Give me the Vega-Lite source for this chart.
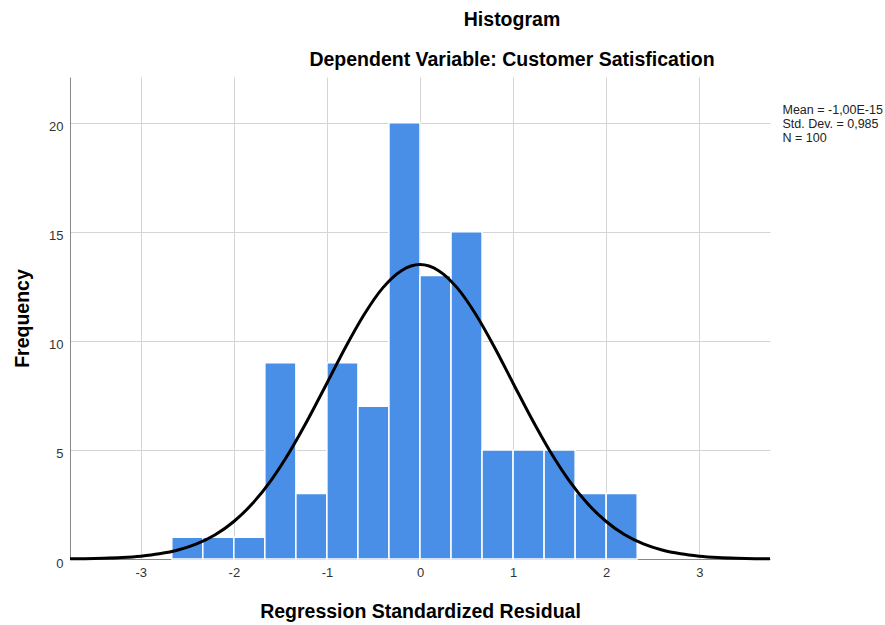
{
  "$schema": "https://vega.github.io/schema/vega-lite/v6.json",
  "width": 700,
  "height": 482,
  "autosize": {"type": "none"},
  "padding": {"left": 70, "top": 77, "right": 115, "bottom": 66},
  "background": "white",
  "title": {
    "text": "Histogram",
    "subtitle": "Dependent Variable: Customer Satisfication",
    "font": "Liberation Sans",
    "subtitleFont": "Liberation Sans",
    "fontSize": 19.5,
    "subtitleFontSize": 19.5,
    "fontWeight": "bold",
    "subtitleFontWeight": "bold",
    "color": "black",
    "subtitleColor": "black",
    "anchor": "middle",
    "dx": 92,
    "offset": 7,
    "subtitlePadding": 20
  },
  "datasets": {
    "bins": [
      {"start": -2.6667, "end": -2.3333, "count": 1},
      {"start": -2.3333, "end": -2.0, "count": 1},
      {"start": -2.0, "end": -1.6667, "count": 1},
      {"start": -1.6667, "end": -1.3333, "count": 9},
      {"start": -1.3333, "end": -1.0, "count": 3},
      {"start": -1.0, "end": -0.6667, "count": 9},
      {"start": -0.6667, "end": -0.3333, "count": 7},
      {"start": -0.3333, "end": 0.0, "count": 20},
      {"start": 0.0, "end": 0.3333, "count": 13},
      {"start": 0.3333, "end": 0.6667, "count": 15},
      {"start": 0.6667, "end": 1.0, "count": 5},
      {"start": 1.0, "end": 1.3333, "count": 5},
      {"start": 1.3333, "end": 1.6667, "count": 5},
      {"start": 1.6667, "end": 2.0, "count": 3},
      {"start": 2.0, "end": 2.3333, "count": 3}
    ],
    "curve": [
      {"x": -3.76, "y": 0.009},
      {"x": -3.6, "y": 0.017},
      {"x": -3.4, "y": 0.035},
      {"x": -3.2, "y": 0.069},
      {"x": -3.0, "y": 0.131},
      {"x": -2.8, "y": 0.237},
      {"x": -2.6, "y": 0.41},
      {"x": -2.4, "y": 0.69},
      {"x": -2.2, "y": 1.11},
      {"x": -2.0, "y": 1.72},
      {"x": -1.8, "y": 2.54},
      {"x": -1.6, "y": 3.61},
      {"x": -1.4, "y": 4.92},
      {"x": -1.2, "y": 6.43},
      {"x": -1.0, "y": 8.06},
      {"x": -0.8, "y": 9.71},
      {"x": -0.6, "y": 11.21},
      {"x": -0.4, "y": 12.43},
      {"x": -0.2, "y": 13.22},
      {"x": 0.0, "y": 13.5},
      {"x": 0.2, "y": 13.22},
      {"x": 0.4, "y": 12.43},
      {"x": 0.6, "y": 11.21},
      {"x": 0.8, "y": 9.71},
      {"x": 1.0, "y": 8.06},
      {"x": 1.2, "y": 6.43},
      {"x": 1.4, "y": 4.92},
      {"x": 1.6, "y": 3.61},
      {"x": 1.8, "y": 2.54},
      {"x": 2.0, "y": 1.72},
      {"x": 2.2, "y": 1.11},
      {"x": 2.4, "y": 0.69},
      {"x": 2.6, "y": 0.41},
      {"x": 2.8, "y": 0.237},
      {"x": 3.0, "y": 0.131},
      {"x": 3.2, "y": 0.069},
      {"x": 3.4, "y": 0.035},
      {"x": 3.6, "y": 0.017},
      {"x": 3.76, "y": 0.009}
    ],
    "stats": [
      {"label": "Mean = -1,00E-15"},
      {"label": "Std. Dev. = 0,985"},
      {"label": "N = 100"}
    ]
  },
  "layer": [
    {
      "data": {"name": "bins"},
      "mark": {"type": "rect", "color": "#4a8fe7", "stroke": "white", "strokeWidth": 1.5},
      "encoding": {
        "x": {
          "field": "start",
          "type": "quantitative",
          "scale": {"domain": [-3.76, 3.76], "nice": false, "zero": false},
          "axis": {
            "values": [-3, -2, -1, 0, 1, 2, 3],
            "labelExpr": "datum.value + ''",
            "title": "Regression Standardized Residual",
            "grid": true,
            "ticks": false,
            "domainColor": "#888888",
            "gridColor": "#d4d4d4",
            "labelFont": "Liberation Sans",
            "labelFontSize": 13,
            "labelColor": "#333333",
            "labelPadding": 7,
            "titleFont": "Liberation Sans",
            "titleFontSize": 19.5,
            "titleFontWeight": "bold",
            "titleColor": "black",
            "titlePadding": 23
          }
        },
        "x2": {"field": "end"},
        "y": {
          "field": "count",
          "type": "quantitative",
          "scale": {"domain": [0, 22.1], "nice": false},
          "axis": {
            "values": [0, 5, 10, 15, 20],
            "title": "Frequency",
            "grid": true,
            "ticks": false,
            "domainColor": "#888888",
            "gridColor": "#d4d4d4",
            "labelFont": "Liberation Sans",
            "labelFontSize": 13,
            "labelColor": "#333333",
            "labelPadding": 7,
            "labelOffset": 4,
            "titleFont": "Liberation Sans",
            "titleFontSize": 19.5,
            "titleFontWeight": "bold",
            "titleColor": "black",
            "titlePadding": 16
          }
        },
        "y2": {"datum": 0}
      }
    },
    {
      "data": {"name": "curve"},
      "mark": {"type": "line", "color": "black", "strokeWidth": 3, "interpolate": "monotone"},
      "encoding": {
        "x": {"field": "x", "type": "quantitative"},
        "y": {"field": "y", "type": "quantitative"}
      }
    },
    {
      "data": {"name": "stats"},
      "mark": {"type": "point", "opacity": 0},
      "encoding": {
        "color": {
          "field": "label",
          "type": "nominal",
          "scale": {"domain": ["Mean = -1,00E-15", "Std. Dev. = 0,985", "N = 100"], "range": ["black", "black", "black"]},
          "legend": {
            "title": null,
            "orient": "none",
            "legendX": 700,
            "legendY": 27,
            "padding": 0,
            "symbolSize": 0,
            "symbolOpacity": 0,
            "symbolStrokeWidth": 0,
            "labelOffset": 0,
            "labelFont": "Liberation Sans",
            "labelFontSize": 12.5,
            "labelColor": "#222222",
            "rowPadding": 0.8
          }
        }
      }
    }
  ],
  "config": {
    "view": {"stroke": null}
  }
}
